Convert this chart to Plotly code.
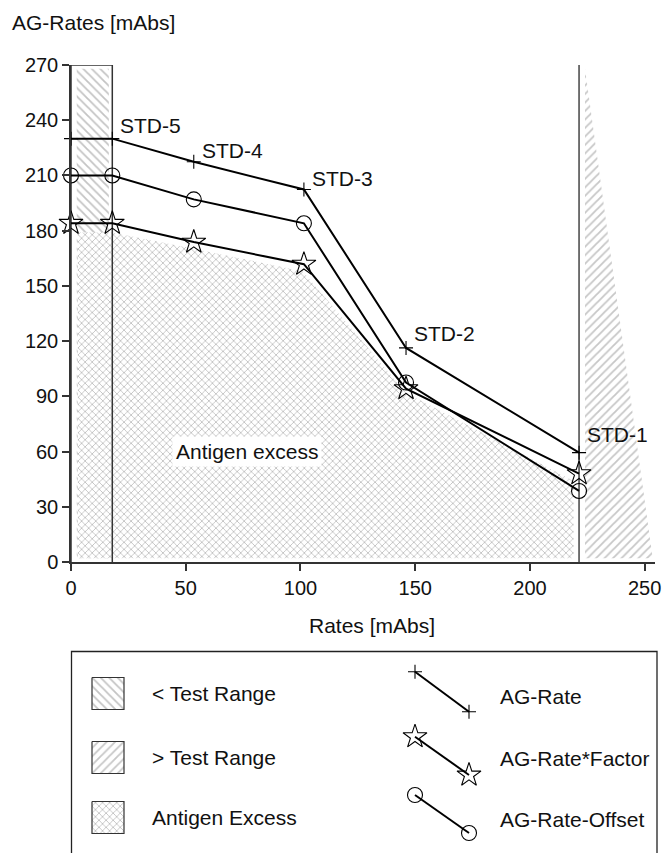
import plotly.graph_objects as go

# ---------------- data ----------------
std_x = [0, 18, 53.5, 101.5, 146, 221.4]
ag_rate = [230, 230, 217.4, 202.4, 116.3, 59.4]
ag_rate_factor = [184, 184, 173.8, 161.8, 94.2, 48]
ag_rate_offset = [210, 210, 197, 184, 97.5, 38.6]

std_labels = ["STD-5", "STD-4", "STD-3", "STD-2", "STD-1"]
std_label_x = [20.5, 56, 104, 148.4, 224]
std_label_y = [237, 223.5, 208.5, 124, 69]

low_range = [0, 18]          # < Test Range (x)
high_limit = 221.4           # > Test Range starts here
high_tri_x = [224, 224, 253.5]
high_tri_y = [268, 2, 2]

excess_x = [3, 3, 18, 54, 101, 146, 219, 219]
excess_y = [2, 179, 179, 170, 158, 92, 44, 2]

x_ticks = [0, 50, 100, 150, 200, 250]
y_ticks = [0, 30, 60, 90, 120, 150, 180, 210, 240, 270]
y_max = 270

W, H = 665, 853
FONT = "Liberation Sans, Arial, Helvetica, sans-serif"
TXT = "#111111"
AX = "#333333"

HATCH_LOW = dict(shape="\\", fgcolor="#8a8a8a", bgcolor="white", size=6, solidity=0.3)
HATCH_HIGH = dict(shape="/", fgcolor="#8f8f8f", bgcolor="white", size=6, solidity=0.3)
HATCH_EXC = dict(shape="x", fgcolor="#858585", bgcolor="white", size=5, solidity=0.32)


def px(v):
    return v / W


def py(v):
    return 1 - v / H


fig = go.Figure()

# < Test Range hatch (inset)
fig.add_trace(go.Scatter(
    x=[low_range[0] + 2.5, low_range[1] - 1.5, low_range[1] - 1.5, low_range[0] + 2.5],
    y=[2, 2, y_max - 2, y_max - 2], fill="toself", mode="none",
    fillpattern=HATCH_LOW, hoverinfo="skip", showlegend=False))
# > Test Range hatch
fig.add_trace(go.Scatter(
    x=high_tri_x, y=high_tri_y, fill="toself", mode="none",
    fillpattern=HATCH_HIGH, hoverinfo="skip", showlegend=False))
# Antigen excess
fig.add_trace(go.Scatter(
    x=excess_x, y=excess_y, fill="toself", mode="none",
    fillpattern=HATCH_EXC, hoverinfo="skip", showlegend=False))
# outline of < Test Range
fig.add_trace(go.Scatter(
    x=[low_range[0], low_range[0], low_range[1], low_range[1]],
    y=[0, y_max, y_max, 0], mode="lines", line=dict(color=AX, width=1.5),
    hoverinfo="skip", showlegend=False, cliponaxis=False))
# > Test Range limit line
fig.add_trace(go.Scatter(
    x=[high_limit, high_limit], y=[0, y_max], mode="lines",
    line=dict(color="#444444", width=1.5), hoverinfo="skip", showlegend=False,
    cliponaxis=False))

# series
fig.add_trace(go.Scatter(
    x=std_x, y=ag_rate, mode="lines+markers", name="AG-Rate",
    line=dict(color="black", width=2),
    marker=dict(symbol="cross-thin", size=10, line=dict(color="black", width=1.1)),
    cliponaxis=False, showlegend=False))
fig.add_trace(go.Scatter(
    x=std_x, y=ag_rate_offset, mode="lines+markers", name="AG-Rate-Offset",
    line=dict(color="black", width=2),
    marker=dict(symbol="circle-open", size=15, color="black", line=dict(color="black", width=1.1)),
    cliponaxis=False, showlegend=False))
fig.add_trace(go.Scatter(
    x=std_x, y=ag_rate_factor, mode="lines+markers", name="AG-Rate*Factor",
    line=dict(color="black", width=2),
    marker=dict(symbol="star-open", size=18, color="black", line=dict(color="black", width=1.1)),
    cliponaxis=False, showlegend=False))

annotations = []
for t, x, y in zip(std_labels, std_label_x, std_label_y):
    annotations.append(dict(x=x, y=y, xref="x", yref="y", text=t, showarrow=False,
                            xanchor="left", yanchor="middle",
                            font=dict(family=FONT, size=21, color=TXT)))
annotations.append(dict(x=76.7, y=59.8, xref="x", yref="y", text="Antigen excess",
                        showarrow=False, bgcolor="white", borderpad=3,
                        font=dict(family=FONT, size=21, color=TXT)))
annotations.append(dict(x=px(10), y=py(22), xref="paper", yref="paper",
                        text="AG-Rates [mAbs]", showarrow=False, xanchor="left",
                        yanchor="middle", font=dict(family=FONT, size=21, color=TXT)))
annotations.append(dict(x=px(372), y=py(625), xref="paper", yref="paper",
                        text="Rates [mAbs]", showarrow=False, xanchor="center",
                        yanchor="middle", font=dict(family=FONT, size=21, color=TXT)))

# ---------------- legend (drawn in pixel-space helper axes) ----------------
legend_patches = [("< Test Range", HATCH_LOW, 693.5),
                  ("> Test Range", HATCH_HIGH, 757.5),
                  ("Antigen Excess", HATCH_EXC, 817.5)]
for name, hatch, cy in legend_patches:
    fig.add_trace(go.Scatter(
        x=[92, 124, 124, 92, 92], y=[cy - 16, cy - 16, cy + 16, cy + 16, cy - 16],
        xaxis="x2", yaxis="y2", fill="toself", mode="lines",
        line=dict(color="#333333", width=1.2), fillpattern=hatch,
        hoverinfo="skip", showlegend=False))
    annotations.append(dict(x=px(150), y=py(cy), xref="paper", yref="paper", text=name,
                            showarrow=False, xanchor="left", yanchor="middle",
                            font=dict(family=FONT, size=21, color=TXT)))

legend_lines = [("AG-Rate", "cross-thin", 10, 671.7, 711.7, 696),
                ("AG-Rate*Factor", "star-open", 18, 736.7, 775, 758),
                ("AG-Rate-Offset", "circle-open", 15, 795, 833, 819)]
for name, sym, sz, y0, y1, ty in legend_lines:
    fig.add_trace(go.Scatter(
        x=[415, 469], y=[y0, y1], xaxis="x2", yaxis="y2", mode="lines+markers",
        line=dict(color="black", width=2),
        marker=dict(symbol=sym, size=sz, color="black", line=dict(color="black", width=1.1)),
        hoverinfo="skip", showlegend=False, cliponaxis=False))
    annotations.append(dict(x=px(498), y=py(ty), xref="paper", yref="paper", text=name,
                            showarrow=False, xanchor="left", yanchor="middle",
                            font=dict(family=FONT, size=21, color=TXT)))

shapes = [dict(type="rect", xref="paper", yref="paper", x0=px(71.5), x1=px(657),
               y0=py(900), y1=py(651.5), line=dict(color="#222222", width=1.3),
               fillcolor="rgba(0,0,0,0)", layer="above")]

fig.update_layout(
    width=W, height=H, margin=dict(l=0, r=0, t=0, b=0),
    paper_bgcolor="white", plot_bgcolor="rgba(0,0,0,0)",
    font=dict(family=FONT, size=20, color=TXT),
    showlegend=False,
    xaxis=dict(domain=[px(71), px(655)], range=[0, 254.5], tickvals=x_ticks,
               ticks="outside", ticklen=7, tickwidth=1.5, tickcolor=AX,
               showline=True, linecolor=AX, linewidth=1.5, showgrid=False,
               zeroline=False, tickfont=dict(family=FONT, size=20, color=TXT),
               automargin=False, anchor="y", fixedrange=True),
    yaxis=dict(domain=[py(562), py(65)], range=[0, y_max], tickvals=y_ticks,
               ticks="outside", ticklen=7, tickwidth=1.5, tickcolor=AX,
               showline=True, linecolor=AX, linewidth=1.5, showgrid=False,
               zeroline=False, tickfont=dict(family=FONT, size=20, color=TXT),
               automargin=False, anchor="x", fixedrange=True),
    xaxis2=dict(domain=[0, 1], range=[0, W], visible=False, anchor="y2", fixedrange=True),
    yaxis2=dict(domain=[0, 1], range=[H, 0], visible=False, anchor="x2", fixedrange=True),
    annotations=annotations, shapes=shapes,
)

fig.write_html("out.html", config={"displayModeBar": False},
               post_script="document.body.style.margin='0';document.body.style.overflow='hidden';")
